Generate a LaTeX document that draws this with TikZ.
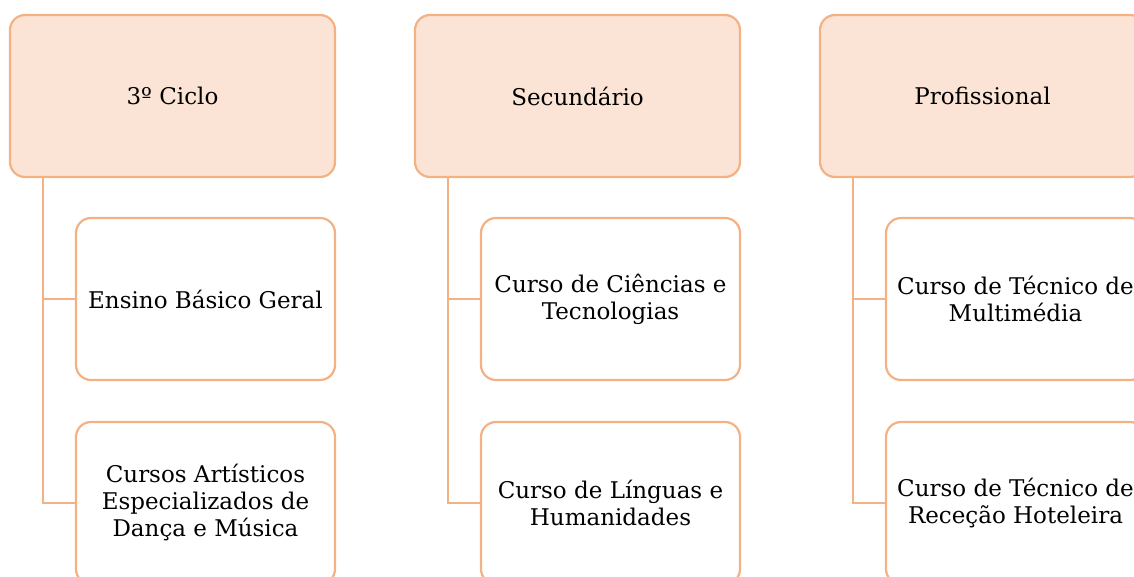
\documentclass[tikz,border=0pt]{standalone}
\usepackage{fontspec}
\setmainfont{DejaVu Serif}
\definecolor{peachfill}{HTML}{FBE4D5}
\definecolor{peachline}{HTML}{F4B183}
\begin{document}
\begin{tikzpicture}[x=1pt,y=1pt,
  box/.style={draw=peachline, line width=2.2pt, rounded corners=15pt, align=center,
    font=\fontsize{23}{27}\selectfont, inner sep=0pt},
  topbox/.style={box, fill=peachfill, minimum width=325pt, minimum height=162pt},
  subbox/.style={box, fill=white, minimum width=259pt, minimum height=162pt},
  conn/.style={draw=peachline, line width=2.2pt}]
\useasboundingbox (0,0) rectangle (1134,-576);
\clip (0,0) rectangle (1134,-576);
% column 1
\node[topbox] (t1) at (172.5,-96) {3º Ciclo};
\node[subbox] (a1) at (205.5,-299) {Ensino Básico Geral};
\node[subbox] (b1) at (205.5,-503) {Cursos Artísticos\\Especializados de\\Dança e Música};
\coordinate (s1) at (43,-177);
\draw[conn] (s1) |- (a1.west);
\draw[conn] (s1) |- (b1.west);
% column 2
\node[topbox] (t2) at (577.5,-96) {Secundário};
\node[subbox] (a2) at (610.5,-299) {Curso de Ciências e\\Tecnologias};
\node[subbox] (b2) at (610.5,-503) {Curso de Línguas e\\Humanidades};
\coordinate (s2) at (448,-177);
\draw[conn] (s2) |- (a2.west);
\draw[conn] (s2) |- (b2.west);
% column 3
\node[topbox] (t3) at (982.5,-96) {Profissional};
\node[subbox] (a3) at (1015.5,-299) {Curso de Técnico de\\Multimédia};
\node[subbox] (b3) at (1015.5,-503) {Curso de Técnico de\\Receção Hoteleira};
\coordinate (s3) at (853,-177);
\draw[conn] (s3) |- (a3.west);
\draw[conn] (s3) |- (b3.west);
\end{tikzpicture}
\end{document}
